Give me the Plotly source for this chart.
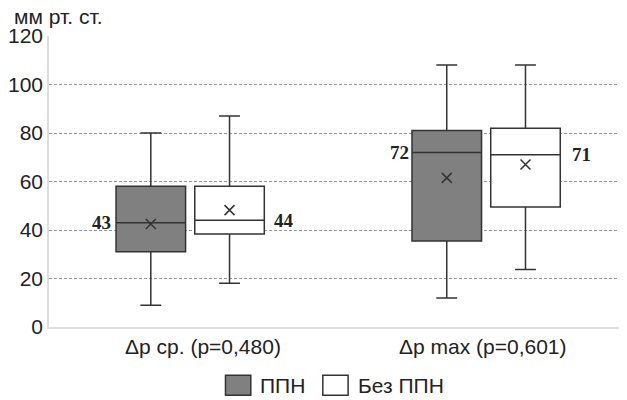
import plotly.graph_objects as go

# ---- data ----
categories = ["\u0394p ср. (p=0,480)", "\u0394p max (p=0,601)"]
series_names = ["ППН", "Без ППН"]

ppn_lower = [9, 12]
ppn_q1 = [31, 35.5]
ppn_median = [43, 72]
ppn_q3 = [58, 81]
ppn_upper = [80, 108]
ppn_mean = [42.5, 61.5]

bez_lower = [18, 23.7]
bez_q1 = [38.3, 49.5]
bez_median = [44, 71]
bez_q3 = [58, 82]
bez_upper = [87, 108]
bez_mean = [48.2, 67]

y_ticks = [0, 20, 40, 60, 80, 100, 120]

# ---- layout constants ----
PAGE_OFF = 8  # default body margin of the html page
W, H = 627 - PAGE_OFF, 400 - PAGE_OFF
ML, MR = 45 - PAGE_OFF, 0
MT = 36 - PAGE_OFF
MB = H - (326.7 - PAGE_OFF)
PW = W - ML - MR
PH = H - MT - MB
OFFSET = 0.133
BOXW = 0.235
XMIN, XMAX = -0.477, 1.476
DARK = "#333333"
GRAYFILL = "#808080"
FONT = "Liberation Sans, Arial, sans-serif"
SERIF = "Liberation Serif, Times New Roman, serif"
FS = 21


def px_x(p):
    return (p - PAGE_OFF - ML) / PW


def px_y(p):
    return (H - MB - (p - PAGE_OFF)) / PH


idx = list(range(len(categories)))
pos_ppn = [i - OFFSET for i in idx]
pos_bez = [i + OFFSET for i in idx]

fig = go.Figure()

fig.add_trace(go.Box(
    x=pos_ppn, q1=ppn_q1, median=ppn_median, q3=ppn_q3,
    lowerfence=ppn_lower, upperfence=ppn_upper,
    width=BOXW, whiskerwidth=0.3, fillcolor=GRAYFILL,
    line=dict(color=DARK, width=1.5), boxpoints=False,
    name=series_names[0], showlegend=False, hoverinfo="skip"))
fig.add_trace(go.Box(
    x=pos_bez, q1=bez_q1, median=bez_median, q3=bez_q3,
    lowerfence=bez_lower, upperfence=bez_upper,
    width=BOXW, whiskerwidth=0.3, fillcolor="white",
    line=dict(color=DARK, width=1.5), boxpoints=False,
    name=series_names[1], showlegend=False, hoverinfo="skip"))

fig.add_trace(go.Scatter(
    x=pos_ppn + pos_bez, y=ppn_mean + bez_mean, mode="markers",
    marker=dict(symbol="x-thin", size=10, line=dict(color=DARK, width=1.5)),
    showlegend=False, hoverinfo="skip"))

annotations = []
# median labels
for i in idx:
    annotations.append(dict(
        x=pos_ppn[i] - BOXW / 2, y=ppn_median[i], xref="x", yref="y",
        text="<b>%d</b>" % ppn_median[i], showarrow=False,
        xanchor="right", yanchor="middle", xshift=-3 if i == 0 else -1,
        font=dict(family=SERIF, size=19, color="#222")))
    annotations.append(dict(
        x=pos_bez[i] + BOXW / 2, y=bez_median[i], xref="x", yref="y",
        text="<b>%d</b>" % bez_median[i], showarrow=False,
        xanchor="left", yanchor="middle", xshift=8 if i == 0 else 10,
        font=dict(family=SERIF, size=19, color="#222")))

# category labels
cat_shift = [13, -3]
for i in idx:
    annotations.append(dict(
        x=i, y=px_y(346), xref="x", yref="paper", text=categories[i],
        showarrow=False, xanchor="center", yanchor="middle",
        xshift=cat_shift[i], font=dict(family=FONT, size=FS, color="#222")))

# y axis title
annotations.append(dict(
    x=px_x(8), y=px_y(17), xref="paper", yref="paper", text="мм рт. ст.",
    showarrow=False, xanchor="left", yanchor="middle",
    font=dict(family=FONT, size=FS, color="#222")))

# legend
shapes = []
legend_items = [(222.7, 255, GRAYFILL, series_names[0]),
                (320.7, 354, "white", series_names[1])]
for x0, tx, fill, label in legend_items:
    shapes.append(dict(type="rect", xref="paper", yref="paper",
                       x0=px_x(x0), x1=px_x(x0 + 25.5),
                       y0=px_y(375), y1=px_y(395),
                       fillcolor=fill, line=dict(color=DARK, width=1.5)))
    annotations.append(dict(
        x=px_x(tx), y=px_y(385), xref="paper", yref="paper", text=label,
        showarrow=False, xanchor="left", yanchor="middle",
        font=dict(family=FONT, size=FS, color="#222")))

fig.update_layout(
    width=W, height=H,
    margin=dict(l=ML, r=MR, t=MT, b=MB, pad=0),
    paper_bgcolor="white", plot_bgcolor="white",
    showlegend=False,
    annotations=annotations, shapes=shapes,
    xaxis=dict(range=[XMIN, XMAX], showticklabels=False, showgrid=False,
               zeroline=False, showline=True, linecolor="#dddddd",
               linewidth=1.5, ticks=""),
    yaxis=dict(range=[0, 120], tickvals=y_ticks, showgrid=True,
               gridcolor="#999999", griddash="3px,2px", gridwidth=1,
               zeroline=True, zerolinecolor="#dddddd", zerolinewidth=1.5,
               showline=True, linecolor="#dddddd", linewidth=1.5,
               ticks="", tickfont=dict(family=FONT, size=FS, color="#222")),
)

fig.write_html("out.html")
